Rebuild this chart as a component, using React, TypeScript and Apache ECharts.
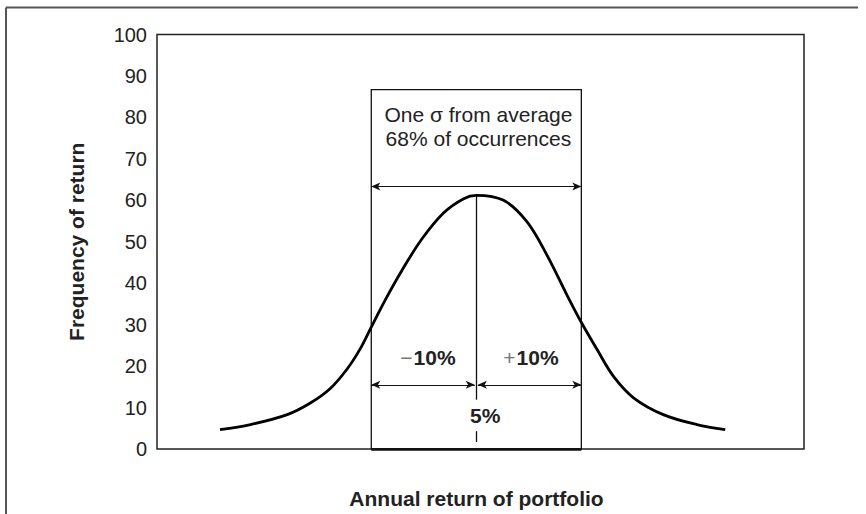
import React, { useEffect, useRef } from "react";
import * as echarts from "echarts";

// Annual return of portfolio (%) and frequency of return
const returnsPct = [-19.4, -16.5, -13.0, -10.8, -8.9, -7.3, -6.0, -5.0, -3.7, -2.1, -0.2, 1.9, 3.8, 5.0, 7.6, 9.8, 11.7, 13.6, 14.9, 16.5, 18.1, 20.0, 22.8, 26.0, 28.7];
const frequency = [4.7, 5.9, 8.3, 11.1, 14.6, 19.3, 24.4, 29.4, 35.8, 43.0, 50.6, 57.0, 60.4, 61.2, 60.0, 54.9, 46.9, 37.3, 31.0, 24.0, 17.4, 12.3, 8.3, 5.9, 4.7];

// Annotation values
const averageReturn = 5;
const sigma = 10;
const boxTop = 86.7;
const upperArrowY = 63.3;
const lowerArrowY = 15.5;
const centerLineTop = 61.2;
const centerLineBottom = 11.9;
const dashTop = 4.3;
const dashBottom = 1.7;

const yMin = 0;
const yMax = 100;
const yInterval = 10;

const boxTitle = "One σ from average\n68% of occurrences";
const minusLabel = "−10%";
const plusLabel = "+10%";
const avgLabel = "5%";
const xTitle = "Annual return of portfolio";
const yTitle = "Frequency of return";

const FONT = "'Liberation Sans', Arial, Helvetica, sans-serif";

export default function App() {
  const ref = useRef<HTMLDivElement>(null);
  useEffect(() => {
    if (!ref.current) return;
    const chart = echarts.init(ref.current, undefined, { renderer: "svg" });
    const lo = averageReturn - sigma;
    const hi = averageReturn + sigma;
    const arrowStyle = { color: "#111", width: 1, type: "solid" as const };
    const signRich = {
      s: { fontSize: 21, color: "#777", fontFamily: FONT, padding: [0, 1, 0, 0] },
      b: { fontSize: 21, fontWeight: "bold", color: "#222", fontFamily: FONT },
    };
    chart.setOption({
      animation: false,
      backgroundColor: "#fff",
      textStyle: { fontFamily: FONT },
      grid: {
        left: 157,
        right: 62,
        top: 34.5,
        bottom: 61,
        show: true,
        borderColor: "#222",
        borderWidth: 1.5,
        backgroundColor: "transparent",
      },
      xAxis: {
        type: "value",
        min: -25.4,
        max: 36.2,
        axisLine: { show: false },
        axisTick: { show: false },
        axisLabel: { show: false },
        splitLine: { show: false },
        name: xTitle,
        nameLocation: "middle",
        nameGap: 39,
        nameTextStyle: { fontSize: 21, fontWeight: "bold", color: "#222", fontFamily: FONT, padding: [0, 8, 0, 0] },
      },
      yAxis: {
        type: "value",
        min: yMin,
        max: yMax,
        interval: yInterval,
        axisLine: { show: false },
        axisTick: { show: false },
        splitLine: { show: false },
        axisLabel: { fontSize: 20, color: "#222", margin: 10, fontFamily: FONT },
        name: yTitle,
        nameLocation: "middle",
        nameGap: 70,
        nameTextStyle: { fontSize: 21, fontWeight: "bold", color: "#222", fontFamily: FONT },
      },
      graphic: [
        { type: "line", shape: { x1: 6, y1: 7.5, x2: 858, y2: 7.5 }, style: { stroke: "#555", lineWidth: 2 } },
        { type: "line", shape: { x1: 6, y1: 7.5, x2: 6, y2: 514 }, style: { stroke: "#555", lineWidth: 2 } },
      ],
      series: [
        {
          type: "line",
          data: returnsPct.map((r, i) => [r, frequency[i]]),
          smooth: 0.35,
          showSymbol: false,
          silent: true,
          lineStyle: { color: "#000", width: 2.8 },
          z: 5,
          markArea: {
            silent: true,
            itemStyle: { color: "rgba(0,0,0,0)", borderColor: "#111", borderWidth: 1.3 },
            data: [[{ coord: [lo, yMin] }, { coord: [hi, boxTop] }]],
          },
          markLine: {
            silent: true,
            animation: false,
            label: { show: false },
            symbol: ["none", "none"],
            data: [
              [
                { coord: [averageReturn, centerLineTop], symbol: "none", lineStyle: { color: "#111", width: 1.3, type: "solid" } },
                { coord: [averageReturn, centerLineBottom], symbol: "none" },
              ],
              [
                { coord: [averageReturn, dashTop], symbol: "none", lineStyle: { color: "#111", width: 1.3, type: "solid" } },
                { coord: [averageReturn, dashBottom], symbol: "none" },
              ],
              [
                { coord: [lo, yMin], symbol: "none", lineStyle: { color: "#111", width: 2.6, type: "solid" } },
                { coord: [hi, yMin], symbol: "none" },
              ],
              [
                { coord: [lo, upperArrowY], symbol: "arrow", symbolSize: [6, 9], lineStyle: arrowStyle },
                { coord: [hi, upperArrowY], symbol: "arrow", symbolSize: [6, 9] },
              ],
              [
                { coord: [lo, lowerArrowY], symbol: "arrow", symbolSize: [6, 9], lineStyle: arrowStyle },
                { coord: [averageReturn - 0.15, lowerArrowY], symbol: "arrow", symbolSize: [6, 9] },
              ],
              [
                { coord: [averageReturn + 0.15, lowerArrowY], symbol: "arrow", symbolSize: [6, 9], lineStyle: arrowStyle },
                { coord: [hi, lowerArrowY], symbol: "arrow", symbolSize: [6, 9] },
              ],
            ],
          },
          markPoint: {
            silent: true,
            symbol: "circle",
            symbolSize: 0,
            itemStyle: { color: "rgba(0,0,0,0)" },
            data: [
              {
                coord: [5.2, 77.7],
                label: {
                  show: true,
                  position: "inside",
                  formatter: boxTitle,
                  fontSize: 21,
                  lineHeight: 24,
                  color: "#222",
                  fontFamily: FONT,
                },
              },
              {
                coord: [0.4, 22.1],
                label: {
                  show: true,
                  position: "inside",
                  formatter: "{s|" + minusLabel.slice(0, 1) + "}{b|" + minusLabel.slice(1) + "}",
                  rich: signRich,
                },
              },
              {
                coord: [10.2, 22.1],
                label: {
                  show: true,
                  position: "inside",
                  formatter: "{s|" + plusLabel.slice(0, 1) + "}{b|" + plusLabel.slice(1) + "}",
                  rich: signRich,
                },
              },
              {
                coord: [5.85, 8.0],
                label: {
                  show: true,
                  position: "inside",
                  formatter: avgLabel,
                  fontSize: 21,
                  fontWeight: "bold",
                  color: "#222",
                  fontFamily: FONT,
                },
              },
            ],
          },
        },
      ],
    });
    return () => chart.dispose();
  }, []);
  return <div ref={ref} style={{ position: "fixed", left: 0, top: 0, width: 866, height: 514 }} />;
}
